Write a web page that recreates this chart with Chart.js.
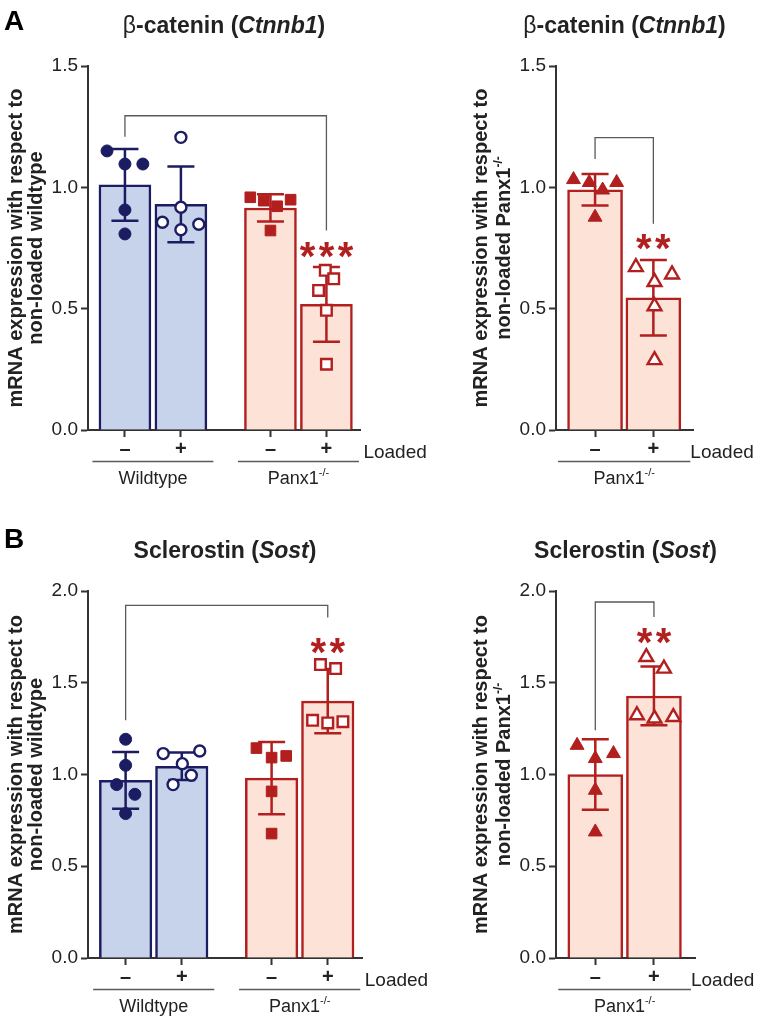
<!DOCTYPE html>
<html>
<head>
<meta charset="utf-8">
<script src="https://cdn.jsdelivr.net/npm/chart.js@4.4.1/dist/chart.umd.min.js"></script>
<style>
  body { margin: 0; background: #fff; }
  #fig { position: relative; width: 757px; height: 1020px; }
  #fig canvas { position: absolute; }
</style>
</head>
<body>
<div id="fig">
  <canvas id="ctnnbWt" width="440" height="495" style="left:0;top:0"></canvas>
  <canvas id="ctnnbPanx" width="317" height="495" style="left:440px;top:0"></canvas>
  <canvas id="sostWt" width="440" height="520" style="left:0;top:500px"></canvas>
  <canvas id="sostPanx" width="317" height="520" style="left:440px;top:500px"></canvas>
</div>
<script>
// ---- values ----
const loadedMarks = ['–', '+', '–', '+'];
const loadedMarksPanx = ['–', '+'];
const ctnnbYTicks = [0, 0.5, 1.0, 1.5];
const sostYTicks = [0, 0.5, 1.0, 1.5, 2.0];

// beta-catenin, relative to non-loaded wildtype (WT -, WT +, Panx1 -, Panx1 +)
const ctnnbWtMean = [1.01, 0.93, 0.915, 0.518];
const ctnnbWtSd = [0.148, 0.156, 0.056, 0.154];
const ctnnbWtPoints = [
    [1.15, 1.096, 1.096, 0.907, 0.808],
    [1.206, 0.918, 0.856, 0.825, 0.848],
    [0.959, 0.945, 0.922, 0.949, 0.822],
    [0.658, 0.623, 0.575, 0.493, 0.271]
];

// beta-catenin, relative to non-loaded Panx1-/- (-, +)
const ctnnbPanxMean = [0.99, 0.545];
const ctnnbPanxSd = [0.065, 0.156];
const ctnnbPanxPoints = [
    [1.032, 1.02, 0.989, 1.02, 0.877],
    [0.671, 0.641, 0.61, 0.51, 0.288]
];

// sclerostin, relative to non-loaded wildtype
const sostWtMean = [0.968, 1.045, 0.98, 1.40];
const sostWtSd = [0.155, 0.075, 0.197, 0.175];
const sostWtPoints = [
    [1.192, 1.05, 0.945, 0.892, 0.787],
    [1.114, 1.128, 1.059, 0.996, 0.945],
    [1.144, 1.101, 1.092, 0.908, 0.678],
    [1.599, 1.577, 1.295, 1.281, 1.288]
];

// sclerostin, relative to non-loaded Panx1-/-
const sostPanxMean = [1.0, 1.428];
const sostPanxSd = [0.192, 0.16];
const sostPanxPoints = [
    [1.159, 1.087, 1.114, 0.914, 0.687],
    [1.64, 1.577, 1.323, 1.305, 1.313]
];

// ---- layout: horizontal spread of the dots (in bar units) ----
const ctnnbWtJitter = [[-0.32, 0, 0.32, 0, 0], [0, 0, -0.33, 0, 0.32], [-0.36, -0.12, 0.12, 0.36, 0], [-0.02, 0.13, -0.14, 0, 0]];
const ctnnbPanxJitter = [[-0.37, -0.1, 0.13, 0.37, 0], [-0.3, 0.32, 0.02, 0.02, 0.02]];
const sostWtJitter = [[0, 0, -0.16, 0.165, 0], [-0.33, 0.32, 0.01, 0.17, -0.155], [-0.27, 0.26, 0, 0, 0], [-0.13, 0.14, -0.27, 0, 0.27]];
const sostPanxJitter = [[-0.31, 0, 0.31, 0, 0], [-0.13, 0.17, -0.29, 0.01, 0.33]];

const FONT = '"Liberation Sans", Arial, Helvetica, sans-serif';
const NAVY = '#1c1c62';
const BLUE_FILL = '#c6d3eb';
const RED = '#b21f1f';
const RED_FILL = '#fde2d7';
const INK = '#222222';
const AXIS = '#333333';
const GREY = '#5a5a5a';

const titleCtnnb = [{ t: 'β', bold: false }, { t: '-catenin (' }, { t: 'Ctnnb1', italic: true }, { t: ')' }];
const titleSost = [{ t: 'Sclerostin (' }, { t: 'Sost', italic: true }, { t: ')' }];
const yLine1 = [{ t: 'mRNA expression with respect to' }];
const yLine2Wt = [{ t: 'non-loaded wildtype' }];
const yLine2Panx = [{ t: 'non-loaded Panx1' }, { t: '-/-', sup: true }];
const groupWt = [{ t: 'Wildtype' }];
const groupPanx = [{ t: 'Panx1' }, { t: '-/-', sup: true }];

function fontFor(part, size, bold) {
    const b = part.bold === undefined ? bold : part.bold;
    const s = part.sup ? Math.round(size * 0.62) : size;
    return (part.italic ? 'italic ' : '') + (b ? 'bold ' : '') + s + 'px ' + FONT;
}

// draw a run of text pieces (italic / superscript), baseline at y
function drawRich(ctx, parts, x, y, size, bold, align) {
    let total = 0;
    const widths = parts.map(p => {
        ctx.font = fontFor(p, size, bold);
        const w = ctx.measureText(p.t).width;
        total += w;
        return w;
    });
    let cx = align === 'center' ? x - total / 2 : x;
    ctx.textAlign = 'left';
    ctx.textBaseline = 'alphabetic';
    parts.forEach((p, i) => {
        ctx.font = fontFor(p, size, bold);
        ctx.fillText(p.t, cx, p.sup ? y - size * 0.42 : y);
        cx += widths[i];
    });
}

function decorPlugin(p) {
    return {
        id: 'decor',
        afterDatasetDraw(chart, args) {
            if (args.index !== 0) return;
            // error bars (mean +/- SD)
            const ctx = chart.ctx;
            const xs = chart.scales.x, ys = chart.scales.y;
            ctx.save();
            ctx.lineWidth = 2.5;
            p.means.forEach((m, i) => {
                const x = xs.getPixelForValue(p.xPos[i]);
                const top = ys.getPixelForValue(m + p.sd[i]);
                const bot = ys.getPixelForValue(m - p.sd[i]);
                ctx.strokeStyle = p.lines[i];
                ctx.beginPath();
                ctx.moveTo(x, top); ctx.lineTo(x, bot);
                ctx.moveTo(x - 13.5, top); ctx.lineTo(x + 13.5, top);
                ctx.moveTo(x - 13.5, bot); ctx.lineTo(x + 13.5, bot);
                ctx.stroke();
            });
            ctx.restore();
        },
        afterDraw(chart) {
            const ctx = chart.ctx;
            const area = chart.chartArea;
            const xs = chart.scales.x, ys = chart.scales.y;
            const px = i => xs.getPixelForValue(p.xPos[i]);
            ctx.save();
            ctx.fillStyle = INK;

            if (p.letter) {
                ctx.font = 'bold 28px ' + FONT;
                ctx.textAlign = 'left';
                ctx.textBaseline = 'alphabetic';
                ctx.fillStyle = '#000';
                ctx.fillText(p.letter, 4, p.letterY);
                ctx.fillStyle = INK;
            }

            // title
            drawRich(ctx, p.title, (area.left + area.right) / 2, area.top - 41 + 8.3, 23, true, 'center');

            // y-axis title, two rotated lines
            const yc = (area.top + area.bottom) / 2;
            [p.yTitle1, p.yTitle2].forEach((line, k) => {
                ctx.save();
                ctx.translate(p.yTitleX[k] + 7.2, yc);
                ctx.rotate(-Math.PI / 2);
                drawRich(ctx, line, 0, 0, 20, true, 'center');
                ctx.restore();
            });

            // "Loaded" row label
            const last = p.xPos.length - 1;
            ctx.font = '19px ' + FONT;
            ctx.textAlign = 'left';
            ctx.textBaseline = 'alphabetic';
            ctx.fillText('Loaded', px(last) + 37, area.bottom + 28);

            // genotype groups
            p.groups.forEach(g => {
                const x0 = px(g.bars[0]) - p.groupPad;
                const x1 = px(g.bars[g.bars.length - 1]) + p.groupPad;
                ctx.strokeStyle = GREY;
                ctx.lineWidth = 1.3;
                ctx.beginPath();
                ctx.moveTo(x0, area.bottom + 31.5);
                ctx.lineTo(x1, area.bottom + 31.5);
                ctx.stroke();
                const mid = (px(g.bars[0]) + px(g.bars[g.bars.length - 1])) / 2;
                drawRich(ctx, g.label, mid, area.bottom + 54, 18, false, 'center');
            });

            // significance bracket and stars
            const s = p.sig;
            const xa = px(s.from), xb = px(s.to);
            ctx.strokeStyle = GREY;
            ctx.lineWidth = 1.3;
            ctx.beginPath();
            ctx.moveTo(xa, ys.getPixelForValue(s.leftEnd));
            ctx.lineTo(xa, ys.getPixelForValue(s.top));
            ctx.lineTo(xb, ys.getPixelForValue(s.top));
            ctx.lineTo(xb, ys.getPixelForValue(s.rightEnd));
            ctx.stroke();
            ctx.fillStyle = RED;
            ctx.font = 'bold 40px ' + FONT;
            ctx.textAlign = 'center';
            ctx.textBaseline = 'alphabetic';
            const n = s.stars.length;
            const sy = ys.getPixelForValue(s.starsAt) + 40 * 0.57;
            for (let i = 0; i < n; i++) {
                ctx.fillText('*', xb + (i - (n - 1) / 2) * 19, sy);
            }
            ctx.restore();
        }
    };
}

function makePanel(id, p) {
    const datasets = [{
        type: 'bar',
        data: p.xPos.map((x, i) => ({ x: x, y: p.means[i] })),
        backgroundColor: p.fills,
        borderColor: p.lines,
        borderWidth: 2.5,
        barThickness: p.barWidth,
        order: 2
    }];
    p.points.forEach((vals, i) => {
        const m = p.markers[i];
        let r = 8;
        if (m.style === 'circle') r = m.open ? 5.5 : 6;
        if (m.style === 'rect') r = 7.5;
        datasets.push({
            type: 'scatter',
            data: vals.map((v, j) => ({ x: p.xPos[i] + p.jitter[i][j], y: v })),
            pointStyle: m.style,
            pointRadius: r,
            backgroundColor: m.open ? '#ffffff' : p.lines[i],
            borderColor: p.lines[i],
            borderWidth: m.open ? 2.4 : 1,
            order: 1
        });
    });

    new Chart(document.getElementById(id), {
        type: 'bar',
        data: { datasets: datasets },
        options: {
            responsive: false,
            devicePixelRatio: 1,
            animation: false,
            events: [],
            layout: { padding: { top: p.top, right: p.right, left: 0, bottom: 0 } },
            plugins: { legend: { display: false }, tooltip: { enabled: false } },
            scales: {
                x: {
                    type: 'linear',
                    offset: false,
                    min: p.xMin,
                    max: p.xMax,
                    afterBuildTicks: scale => { scale.ticks = p.xPos.map(v => ({ value: v })); },
                    afterFit: scale => { scale.height = p.xAxisH; },
                    ticks: {
                        callback: (v, i) => p.loaded[i],
                        autoSkip: false,
                        maxRotation: 0,
                        padding: 0,
                        color: INK,
                        font: { family: FONT, size: 20, weight: 'bold' }
                    },
                    grid: { offset: false, drawOnChartArea: false, tickLength: 7, tickWidth: 2, color: AXIS },
                    border: { color: AXIS, width: 2 }
                },
                y: {
                    min: 0,
                    max: p.yTicks[p.yTicks.length - 1],
                    afterBuildTicks: scale => { scale.ticks = p.yTicks.map(v => ({ value: v })); },
                    afterFit: scale => { scale.width = p.yAxisW; },
                    ticks: {
                        callback: v => v.toFixed(1),
                        padding: 3,
                        color: INK,
                        font: { family: FONT, size: 19 }
                    },
                    grid: { drawOnChartArea: false, tickLength: 7, tickWidth: 2, color: AXIS },
                    border: { color: AXIS, width: 2 }
                }
            }
        },
        plugins: [decorPlugin(p)]
    });
}

const wtFills = [BLUE_FILL, BLUE_FILL, RED_FILL, RED_FILL];
const wtLines = [NAVY, NAVY, RED, RED];
const wtMarkers = [
    { style: 'circle', open: false }, { style: 'circle', open: true },
    { style: 'rect', open: false }, { style: 'rect', open: true }
];
const panxMarkers = [{ style: 'triangle', open: false }, { style: 'triangle', open: true }];

makePanel('ctnnbWt', {
    letter: 'A', letterY: 30,
    title: titleCtnnb, yTitle1: yLine1, yTitle2: yLine2Wt, yTitleX: [15, 35],
    top: 66, right: 80, yAxisW: 88, xAxisH: 65,
    xPos: [1, 2, 3.6, 4.6], xMin: 0.34, xMax: 5.2, barWidth: 52, groupPad: 32.5,
    yTicks: ctnnbYTicks, loaded: loadedMarks,
    means: ctnnbWtMean, sd: ctnnbWtSd, points: ctnnbWtPoints, jitter: ctnnbWtJitter,
    fills: wtFills, lines: wtLines, markers: wtMarkers,
    groups: [{ label: groupWt, bars: [0, 1] }, { label: groupPanx, bars: [2, 3] }],
    sig: { from: 0, to: 3, top: 1.295, leftEnd: 1.208, rightEnd: 0.822, starsAt: 0.752, stars: '***' }
});

makePanel('ctnnbPanx', {
    title: titleCtnnb, yTitle1: yLine1, yTitle2: yLine2Panx, yTitleX: [40, 63],
    top: 66, right: 64, yAxisW: 116, xAxisH: 65,
    xPos: [1, 2], xMin: 0.33, xMax: 2.68, barWidth: 55, groupPad: 37,
    yTicks: ctnnbYTicks, loaded: loadedMarksPanx,
    means: ctnnbPanxMean, sd: ctnnbPanxSd, points: ctnnbPanxPoints, jitter: ctnnbPanxJitter,
    fills: [RED_FILL, RED_FILL], lines: [RED, RED], markers: panxMarkers,
    groups: [{ label: groupPanx, bars: [0, 1] }],
    sig: { from: 0, to: 1, top: 1.205, leftEnd: 1.117, rightEnd: 0.85, starsAt: 0.785, stars: '**' }
});

makePanel('sostWt', {
    letter: 'B', letterY: 48,
    title: titleSost, yTitle1: yLine1, yTitle2: yLine2Wt, yTitleX: [14.5, 35],
    top: 91, right: 78, yAxisW: 88, xAxisH: 62,
    xPos: [1, 2, 3.6, 4.6], xMin: 0.33, xMax: 5.21, barWidth: 52.5, groupPad: 32.5,
    yTicks: sostYTicks, loaded: loadedMarks,
    means: sostWtMean, sd: sostWtSd, points: sostWtPoints, jitter: sostWtJitter,
    fills: wtFills, lines: wtLines, markers: wtMarkers,
    groups: [{ label: groupWt, bars: [0, 1] }, { label: groupPanx, bars: [2, 3] }],
    sig: { from: 0, to: 3, top: 1.922, leftEnd: 1.295, rightEnd: 1.855, starsAt: 1.717, stars: '**' }
});

makePanel('sostPanx', {
    title: titleSost, yTitle1: yLine1, yTitle2: yLine2Panx, yTitleX: [40, 63],
    top: 91, right: 62, yAxisW: 116, xAxisH: 62,
    xPos: [1, 2], xMin: 0.33, xMax: 2.7, barWidth: 55, groupPad: 37,
    yTicks: sostYTicks, loaded: loadedMarksPanx,
    means: sostPanxMean, sd: sostPanxSd, points: sostPanxPoints, jitter: sostPanxJitter,
    fills: [RED_FILL, RED_FILL], lines: [RED, RED], markers: panxMarkers,
    groups: [{ label: groupPanx, bars: [0, 1] }],
    sig: { from: 0, to: 1, top: 1.94, leftEnd: 1.241, rightEnd: 1.858, starsAt: 1.77, stars: '**' }
});
</script>
</body>
</html>
